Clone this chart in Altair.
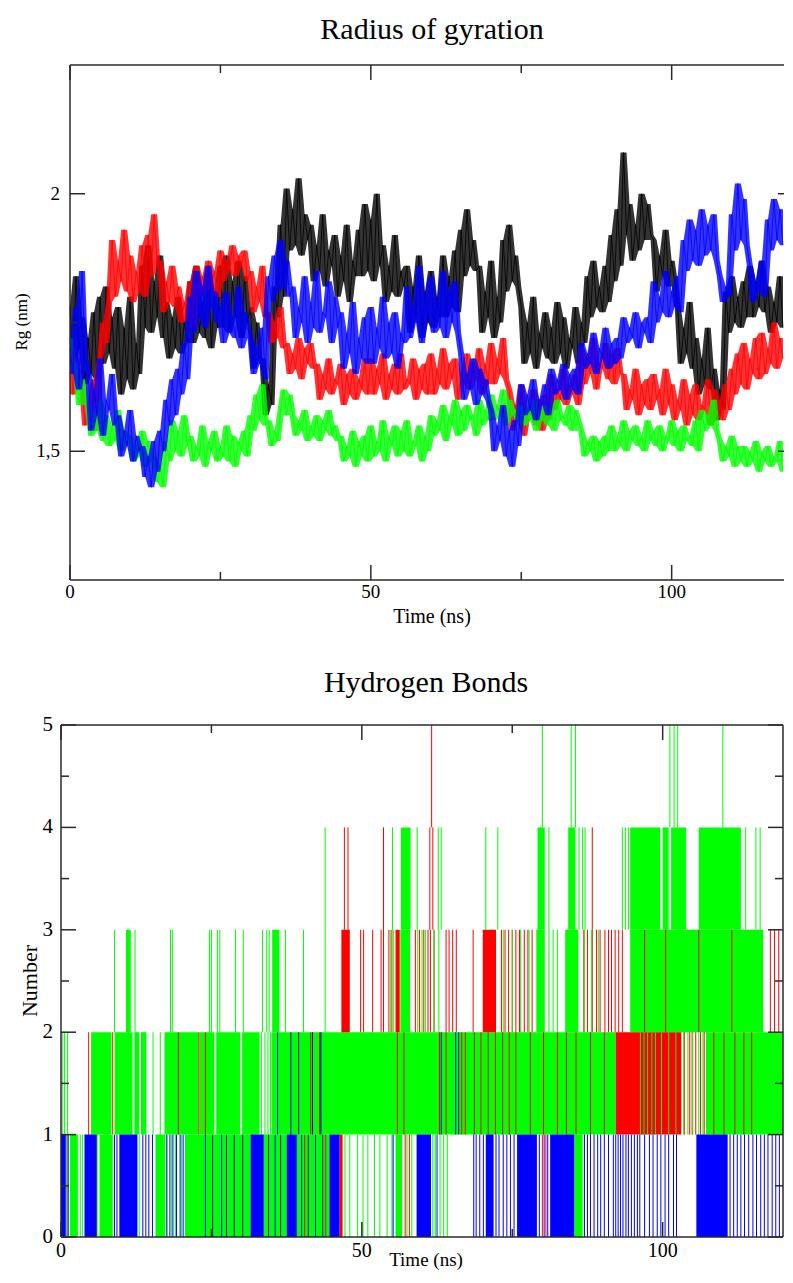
import altair as alt
import pandas as pd

FONT = "Liberation Serif"

# ---------------- Radius of gyration (values in 0.01 nm, one every 0.5 ns) ----------------
RG_STEP_NS = 0.5
RG_BLACK = [
    178, 166, 184, 170,
    176, 163, 172, 165, 177, 164,
    180, 167, 182, 169, 176, 166,
    178, 161, 174, 164, 180, 162, 171, 165,
    186, 174, 190, 173, 183, 176, 188, 172,
    179, 168, 176, 170, 180, 169, 175, 171,
    183, 171, 186, 173, 179, 172, 185, 170, 181, 174,
    186, 174, 188, 173, 183, 176, 187, 172, 184, 175,
    178, 166, 175, 168,
    168, 157, 163, 159,
    182, 176, 194, 180,
    201, 189, 197, 190, 203, 188, 196, 191,
    194, 183, 190, 185, 196, 182, 189, 186,
    192, 180, 188, 183, 194, 179, 187, 184,
    193, 184, 198, 185, 195, 183, 200, 186,
    190, 179, 186, 181, 192, 180, 185, 182,
    186, 173, 182, 176, 188, 172, 181, 175, 185, 174, 180, 176,
    188, 176, 184, 178, 189, 177,
    193, 184, 197, 186, 191, 185,
    186, 173, 181, 176, 187, 172, 180, 175,
    191, 181, 194, 183, 188, 182,
    178, 167, 175, 169, 180, 166, 173, 170, 177, 168, 174, 167, 179, 169, 176, 166, 172, 170, 178, 167, 175, 171,
    184, 176, 187, 178, 182, 177, 186, 179,
    192, 183, 197, 186,
    208, 192,
    198, 187, 194, 189,
    200, 191, 198, 192,
    191, 181, 188, 184, 193, 182, 187, 183,
    178, 167, 174, 169, 179, 166,
    172, 161, 168, 163, 174, 162,
    166, 156, 162, 158,
    181, 173, 184, 175, 180, 174, 183, 176,
    186, 176, 183, 178, 187, 177,
    182, 173, 179, 175, 184, 174, 180, 176, 178,
]
RG_RED = [
    172, 161, 168, 164,
    163, 155, 160, 157, 164, 154,
    168, 175, 171, 179,
    191, 180, 187, 183, 193, 181,
    188, 179, 185, 181, 190, 180,
    192, 184, 196, 186,
    187, 177, 183, 179, 186, 178,
    182, 175, 179, 176, 183, 174,
    186, 180, 184, 181, 187, 182, 185, 180,
    189, 183, 187, 185, 190, 184, 188, 186, 189, 183,
    185, 177, 182, 179, 186, 176,
    177, 171, 175, 172, 178, 170,
    171, 165, 169, 166, 172, 164, 170, 167, 171, 166,
    167, 160, 165, 162, 168, 161, 164, 163, 167, 159, 165, 161, 166, 160, 164, 162, 168, 161,
    168, 161, 166, 163, 169, 160, 165, 162, 167, 161, 169, 162, 164, 163, 168, 160, 166, 162, 167, 161,
    169, 161, 166, 163, 170, 162, 167, 164, 168, 160, 165, 163, 169, 162, 166, 164, 170, 161, 167, 163,
    171, 163, 168, 165, 172, 164,
    162, 154, 159, 156, 163, 153, 158, 157, 162, 155, 160, 154, 161, 156,
    165, 158, 162, 160, 166, 159, 163, 161, 165, 159,
    170, 163, 168, 165, 172, 162, 167, 166, 171, 164, 169, 163, 170, 165,
    165, 158, 162, 160, 166, 157, 163, 159, 164, 158, 165, 160, 162, 157, 166, 159,
    163, 156, 160, 158, 164, 155, 161, 157, 163, 156, 159, 158, 164, 155, 162, 157, 160, 156, 163, 158,
    166, 161, 169, 163, 171, 162, 168, 165, 172, 164,
    173, 165, 170, 167, 175, 166, 172, 168, 176, 167, 171,
]
RG_GREEN = [
    172, 166,
    167, 159, 164, 161,
    159, 153, 157, 154, 160, 152,
    157, 151, 155, 152, 158, 150, 154, 153,
    153, 148, 151, 149, 154, 147, 152, 148,
    149, 144, 147, 143,
    152, 148, 156, 150, 154, 149, 157, 151,
    153, 148, 151, 149, 155, 147, 152, 150, 154, 148, 151, 149, 155, 148, 153, 147, 152, 150, 154, 149,
    157, 154, 161, 156, 163, 155,
    156, 151, 154, 152,
    158, 162, 157, 161,
    157, 153, 156, 154, 158, 152, 155, 153, 157, 152, 156, 154, 158, 153, 155, 152,
    153, 148, 151, 149, 154, 147, 152, 149, 153, 148,
    155, 149, 152, 150, 156, 148, 153, 151, 155, 149, 154, 150, 156, 149, 152, 151, 155, 148, 153, 150,
    157, 153, 156, 154, 159, 152, 157, 155, 160, 153, 158, 154, 159, 156, 157, 153, 160, 155, 158, 156,
    161, 156, 159, 157, 162, 155, 160, 157, 158, 156,
    159, 155, 158, 156, 160, 154, 157, 156, 159, 155, 158, 154, 160, 156, 157, 155, 159, 154, 158, 156,
    154, 149, 152, 150, 153, 148, 152, 149, 153, 150,
    155, 150, 153, 151, 156, 150, 154, 152, 155, 151, 153, 150, 156, 152, 154, 151, 155, 150, 153, 152,
    156, 151, 154, 150, 155, 152, 153, 151, 156, 150,
    158, 154, 157, 155, 160, 154,
    152, 148, 151, 149, 153, 147, 151, 148,
    151, 147, 150, 148, 152, 146, 150, 148, 151, 147, 149, 148, 152, 146, 150, 147, 151,
]
RG_BLUE = [
    170, 165,
    178, 162, 185, 168,
    166, 154, 162, 157, 168, 153, 160, 158, 165, 155,
    157, 149, 154, 151, 158, 148, 153, 150,
    151, 145, 149, 143, 152, 146,
    154, 150, 160, 155, 164, 157,
    166, 161, 171, 164,
    180, 173, 185, 176, 182, 174, 186, 178, 181, 175,
    178, 171, 181, 173, 176, 172, 182, 170, 177, 174,
    172, 165, 170, 167, 174, 164,
    184, 179, 188, 181, 191, 182, 187, 180,
    182, 172, 178, 175, 184, 171, 179, 174, 185, 173, 177, 176, 183, 171, 180, 174,
    177, 166, 173, 169, 179, 165, 172, 168, 176, 167,
    178, 167, 174, 170, 180, 168, 175, 169, 177, 166, 173, 171,
    182, 172, 178, 175, 186, 171, 180, 176, 184, 173, 179, 174, 185, 172, 181, 175, 183, 173,
    169, 160, 165, 162, 168, 159, 166, 161, 164, 160,
    158, 150, 155, 152, 159, 149, 154, 147, 156, 151,
    163, 157, 161, 158, 164, 156, 160, 159, 163, 157,
    166, 161, 164, 162, 167, 160, 165, 162, 166, 161,
    171, 166, 169, 167, 173, 165, 170, 168, 174, 166, 171, 167, 172, 168,
    176, 171, 174, 172, 177, 170, 175, 173, 176, 171,
    183, 175, 180, 177, 185, 176, 181, 178, 184, 177,
    191, 185, 195, 187, 193, 186, 197, 188, 194, 189, 196, 187,
    184, 179, 182, 180,
    196, 189, 202, 191, 199, 190,
    186, 179, 183, 181, 187, 180,
    195, 189, 199, 191, 197, 190, 198, 192, 196,
]
RG_SERIES = [("black", RG_BLACK, "#000000"), ("red", RG_RED, "#ff0000"),
             ("green", RG_GREEN, "#00ff00"), ("blue", RG_BLUE, "#0000ff")]
RG_X_MAJOR = [0, 50, 100]
RG_X_LABELS = ["0", "50", "100"]
RG_X_MINOR = [25, 75]
RG_Y_MAJOR = [1.5, 2.0]
RG_Y_LABELS = ["1,5", "2"]
RG_Y_MINOR = [1.75]
RG_Y_DOMAIN = [1.25, 2.25]

# ---------------- Hydrogen bonds: (start ns, end ns, low, high) filled blocks, (ns, low, high) single strokes ----------------
GREEN_BANDS = [
    (5.0, 8.4, 1, 2), (8.9, 11.9, 1, 2), (12.2, 13.0, 1, 2), (13.3, 14.2, 1, 2),
    (17.2, 22.8, 1, 2), (23.0, 25.5, 1, 2), (25.8, 29.8, 1, 2), (30.1, 33.0, 1, 2),
    (35.0, 92.2, 1, 2), (107.2, 120.0, 1, 2),
    (1.5, 2.8, 0, 1), (6.4, 8.6, 0, 1), (15.7, 17.3, 0, 1), (20.6, 31.5, 0, 1),
    (33.7, 37.5, 0, 1), (39.2, 44.6, 0, 1), (55.6, 56.7, 0, 1), (85.3, 86.7, 0, 1),
    (10.8, 11.6, 2, 3), (35.1, 36.3, 2, 3), (56.4, 58.0, 2, 3), (79.0, 80.4, 2, 3),
    (83.8, 86.0, 2, 3), (94.6, 116.7, 2, 3),
    (56.5, 58.1, 3, 4), (79.2, 80.4, 3, 4), (84.3, 85.5, 3, 4), (94.6, 99.6, 3, 4),
    (100.0, 101.0, 3, 4), (101.4, 103.9, 3, 4), (106.0, 113.0, 3, 4),
]
GREEN_LINES = [
    (0.2, 1, 2), (0.6, 1, 2), (1.1, 1, 2),
    (0.9, 0, 1), (3.2, 0, 1), (3.6, 0, 1), (6.0, 0, 1), (13.0, 0, 1), (17.5, 0, 1),
    (18.4, 0, 1), (19.0, 0, 1), (20.0, 0, 1),
    (15.3, 1, 2), (16.5, 1, 2), (33.3, 1, 2), (33.9, 1, 2), (34.4, 1, 2), (34.8, 1, 2),
    (8.9, 2, 3), (12.3, 2, 3), (18.2, 2, 3), (18.5, 2, 3), (24.7, 2, 3), (25.0, 2, 3),
    (26.0, 2, 3), (26.4, 2, 3), (29.0, 2, 3), (30.3, 2, 3), (33.5, 2, 3), (34.2, 2, 3),
    (34.6, 2, 3), (37.3, 2, 3), (40.3, 2, 3), (43.9, 2, 4),
    (47.2, 0, 1), (48.0, 0, 1), (49.3, 0, 1), (50.2, 0, 1), (51.0, 0, 1), (52.1, 0, 1),
    (53.0, 0, 1), (54.2, 0, 1), (55.0, 0, 1),
    (54.8, 2, 3), (55.3, 2, 3), (55.1, 3, 4),
    (57.5, 0, 1), (58.3, 0, 1), (61.8, 0, 1), (62.2, 0, 1), (63.0, 0, 1), (63.6, 0, 1), (64.2, 0, 1),
    (59.2, 3, 4), (62.7, 3, 4), (63.2, 3, 4), (70.6, 3, 4), (72.6, 3, 4), (81.1, 3, 4),
    (86.1, 3, 4), (86.7, 3, 4), (87.1, 3, 4), (93.3, 3, 4), (93.8, 3, 4), (94.3, 3, 4),
    (113.8, 3, 4), (115.5, 3, 4), (116.2, 3, 4),
    (59.3, 2, 3), (60.0, 2, 3), (60.6, 2, 3), (62.0, 2, 3), (62.8, 2, 3), (73.5, 2, 3),
    (75.0, 2, 3), (76.4, 2, 3), (77.8, 2, 3), (81.1, 2, 3), (81.8, 2, 3), (82.5, 2, 3),
    (87.0, 2, 3), (88.2, 2, 3), (89.3, 2, 3),
    (80.0, 4, 5), (84.8, 4, 5), (85.5, 4, 5), (101.2, 4, 5), (101.9, 4, 5), (102.5, 4, 5),
    (110.0, 4, 5),
    (96.3, 1, 2), (96.9, 1, 2), (97.5, 1, 2), (98.2, 1, 2), (98.8, 1, 2), (99.8, 1, 2),
    (101.0, 1, 2), (102.2, 1, 2), (103.5, 1, 2), (104.2, 1, 2), (105.0, 1, 2), (106.0, 1, 2),
    (106.7, 1, 2),
]
RED_BANDS = [
    (46.3, 46.8, 0, 1), (46.6, 48.0, 2, 3), (55.6, 56.3, 2, 3), (70.1, 72.3, 2, 3),
    (92.2, 103.1, 1, 2),
]
RED_LINES = [
    (1.0, 0, 1), (5.9, 0, 1), (40.5, 0, 1), (44.0, 0, 1),
    (4.6, 1, 2), (8.6, 1, 2), (19.5, 1, 2), (22.9, 1, 2), (24.0, 1, 2), (41.5, 1, 2), (43.0, 1, 2),
    (49.8, 2, 3), (50.3, 2, 3), (51.8, 2, 3), (53.2, 2, 3), (54.5, 2, 3), (55.0, 2, 3),
    (47.1, 3, 4), (47.7, 3, 4), (53.6, 2, 4),
    (58.9, 2, 3), (59.6, 2, 3), (60.3, 2, 3), (61.0, 2, 3), (61.4, 2, 3), (62.0, 2, 3),
    (64.0, 2, 3), (64.5, 2, 3), (65.1, 2, 3), (65.7, 2, 3), (68.5, 2, 3), (73.2, 2, 3),
    (73.8, 2, 3), (74.4, 2, 3), (75.0, 2, 3), (75.6, 2, 3), (76.2, 2, 3), (77.0, 2, 3),
    (77.6, 2, 3), (78.3, 2, 3), (86.9, 2, 3), (87.5, 2, 3), (88.3, 2, 3), (89.0, 2, 3),
    (89.6, 2, 3), (90.4, 2, 3), (91.0, 2, 3), (91.5, 2, 3), (92.1, 2, 3), (92.7, 2, 3),
    (93.3, 2, 3),
    (61.3, 3, 4), (61.8, 3, 4), (88.3, 3, 4), (61.6, 4, 5),
    (55.9, 1, 2), (57.0, 1, 2), (62.9, 1, 2), (64.0, 1, 2), (66.6, 1, 2), (67.2, 1, 2), (68.7, 1, 2),
    (69.8, 1, 2), (71.0, 1, 2), (72.2, 1, 2), (73.4, 1, 2), (74.5, 1, 2), (75.6, 1, 2),
    (78.0, 1, 2), (80.2, 1, 2), (82.5, 1, 2), (84.0, 1, 2), (85.6, 1, 2), (88.0, 1, 2),
    (90.3, 1, 2), (103.6, 1, 2), (104.5, 1, 2), (104.9, 1, 2), (105.5, 1, 2), (106.3, 1, 2),
    (106.9, 1, 2), (108.5, 1, 2), (110.2, 1, 2), (112.0, 1, 2), (113.5, 1, 2), (114.8, 1, 2),
    (97.0, 2, 3), (100.5, 2, 3), (106.0, 2, 3), (111.5, 2, 3), (117.9, 2, 3), (118.6, 2, 3),
    (119.3, 2, 3),
    (57.2, 0, 1), (57.9, 0, 1), (80.0, 0, 1), (80.6, 0, 1),
]
BLUE_BANDS = [
    (0.0, 0.8, 0, 1), (3.9, 5.9, 0, 1), (9.7, 12.7, 0, 1), (31.5, 33.7, 0, 1),
    (37.5, 39.2, 0, 1), (44.6, 46.3, 0, 1), (59.1, 61.5, 0, 1), (70.6, 71.9, 0, 1),
    (75.8, 79.1, 0, 1), (81.3, 85.3, 0, 1), (105.6, 110.8, 0, 1),
]
BLUE_LINE_TIMES = [
    1.2, 8.9, 9.3, 13.6, 14.1, 14.6, 15.2, 17.6, 18.1, 18.6, 19.2, 19.8, 20.3, 24.0, 25.2,
    26.7, 27.5, 28.8, 30.2, 34.5, 35.6, 36.5, 40.0, 41.1, 42.3, 43.5, 55.2, 62.5, 68.6,
    69.0, 69.6, 70.2, 72.3, 72.8, 73.5, 74.1, 74.7, 75.3, 79.5, 80.3, 80.9, 87.0, 87.5,
    88.0, 88.6, 89.2, 89.7, 90.3, 91.0, 91.8, 92.2, 92.6, 93.0, 93.4, 93.9, 94.3, 94.8,
    95.3, 95.8, 96.2, 97.0, 97.8, 98.4, 99.1, 99.7, 100.4, 101.0, 101.8, 102.3, 111.2,
    111.8, 112.4, 113.0, 113.6, 114.3, 115.0, 115.6, 116.3, 116.9, 117.5, 118.2, 118.8, 119.4,
]
BLUE_HIGH_LINE_TIMES = [36.0, 38.2, 39.5, 41.8, 43.2, 63.2, 65.6, 66.1]
HB_X_MAJOR = [0, 50, 100]
HB_X_LABELS = ["0", "50", "100"]
HB_X_MINOR = [25, 75]
HB_Y_MAJOR = [0, 1, 2, 3, 4, 5]
HB_Y_LABELS = ["0", "1", "2", "3", "4", "5"]
HB_Y_MINOR = [0.5, 1.5, 2.5, 3.5, 4.5]
HB_X_DOMAIN = [0, 120]
HB_Y_DOMAIN = [0, 5]

# ---------------- layout (pixels inside the drawing) ----------------
CANVAS_W, CANVAS_H = 776, 1262
AXIS_COLOR = "#2a2a2a"
BOT = dict(left=53, right=775, top=717, bottom=1229)
PX_PER_NS = (BOT["right"] - BOT["left"]) / HB_X_DOMAIN[1]
TOP = dict(left=62, right=776, top=57, bottom=572)     # upper frame, cut at the picture edge
MAJOR_LEN, MINOR_LEN = 15, 8
RG_X_DOMAIN = [0, (TOP["right"] - TOP["left"]) / PX_PER_NS]

rg_xs = alt.Scale(domain=RG_X_DOMAIN, range=[TOP["left"], TOP["right"]], nice=False, zero=False)
rg_ys = alt.Scale(domain=RG_Y_DOMAIN, range=[TOP["bottom"], TOP["top"]], nice=False, zero=False)
hb_xs = alt.Scale(domain=HB_X_DOMAIN, range=[BOT["left"], BOT["right"]], nice=False, zero=False)
hb_ys = alt.Scale(domain=HB_Y_DOMAIN, range=[BOT["bottom"], BOT["top"]], nice=False, zero=False)


def X(field, scale):
    return alt.X(field, scale=scale, axis=None)


def Y(field, scale):
    return alt.Y(field, scale=scale, axis=None)


def frame_and_ticks(P, xs, ys, xmaj, xmin, ymaj, ymin, right_major, right_minor, right_border):
    out = []
    rule = dict(color=AXIS_COLOR, strokeWidth=1.5)
    edge = alt.Chart(pd.DataFrame({"edge": [0]}))
    out.append(edge.mark_rule(**rule).encode(x=alt.value(P["left"]), x2=alt.value(P["right"]), y=alt.value(P["top"])))
    out.append(edge.mark_rule(**rule).encode(x=alt.value(P["left"]), x2=alt.value(P["right"]), y=alt.value(P["bottom"])))
    out.append(edge.mark_rule(**rule).encode(x=alt.value(P["left"]), y=alt.value(P["top"]), y2=alt.value(P["bottom"])))
    if right_border:
        out.append(edge.mark_rule(**rule).encode(x=alt.value(P["right"]), y=alt.value(P["top"]), y2=alt.value(P["bottom"])))
    for vals, L in ((xmaj, MAJOR_LEN), (xmin, MINOR_LEN)):
        base = alt.Chart(pd.DataFrame({"tick": vals})).mark_rule(**rule)
        out.append(base.encode(x=X("tick:Q", xs), y=alt.value(P["bottom"]), y2=alt.value(P["bottom"] - L)))
        out.append(base.encode(x=X("tick:Q", xs), y=alt.value(P["top"]), y2=alt.value(P["top"] + L)))
    for vals, L, R in ((ymaj, MAJOR_LEN, right_major), (ymin, MINOR_LEN, right_minor)):
        base = alt.Chart(pd.DataFrame({"tick": vals})).mark_rule(**rule)
        out.append(base.encode(y=Y("tick:Q", ys), x=alt.value(P["left"]), x2=alt.value(P["left"] + L)))
        if R > 0:
            out.append(base.encode(y=Y("tick:Q", ys), x=alt.value(P["right"]), x2=alt.value(P["right"] - R)))
    return out


def tick_labels_x(vals, labels, xs, ypix, size):
    df = pd.DataFrame({"tick": vals, "label": labels})
    return alt.Chart(df).mark_text(fontSize=size, color="black", align="center", baseline="middle").encode(
        x=X("tick:Q", xs), y=alt.value(ypix), text="label:N")


def tick_labels_y(vals, labels, ys, xpix, size):
    df = pd.DataFrame({"tick": vals, "label": labels})
    return alt.Chart(df).mark_text(fontSize=size, color="black", align="right", baseline="middle").encode(
        y=Y("tick:Q", ys), x=alt.value(xpix), text="label:N")


def caption(text, xpix, ypix, size, angle=0):
    df = pd.DataFrame({"label": [text]})
    return alt.Chart(df).mark_text(fontSize=size, color="black", align="center", baseline="middle",
                                   angle=angle).encode(x=alt.value(xpix), y=alt.value(ypix), text="label:N")


# ---------------- upper panel: radius of gyration ----------------
layers = []
for name, vals, col in RG_SERIES:
    df = pd.DataFrame({"t": [i * RG_STEP_NS for i in range(len(vals))],
                       "rg": [v / 100 for v in vals]})
    base = alt.Chart(df).transform_filter(alt.datum.t <= RG_X_DOMAIN[1])
    # band swept by the fast fluctuations of the trace
    layers.append(
        base.transform_window(lo="min(rg)", hi="max(rg)", frame=[-1, 1], sort=[alt.SortField("t")])
        .mark_area(color=col, opacity=0.8)
        .encode(x=X("t:Q", rg_xs), y=Y("lo:Q", rg_ys), y2="hi:Q"))
    layers.append(base.mark_line(color=col, strokeWidth=0.8).encode(x=X("t:Q", rg_xs), y=Y("rg:Q", rg_ys)))

layers += frame_and_ticks(TOP, rg_xs, rg_ys, RG_X_MAJOR, RG_X_MINOR, RG_Y_MAJOR, RG_Y_MINOR, 6, 0, False)
layers += [
    tick_labels_x(RG_X_MAJOR, RG_X_LABELS, rg_xs, 584, 19),
    tick_labels_y(RG_Y_MAJOR, RG_Y_LABELS, rg_ys, 52, 19),
    caption("Radius of gyration", 424, 22, 30),
    caption("Time (ns)", 424, 609, 20),
    caption("Rg (nm)", 14, 314, 17, angle=270),
]


# ---------------- lower panel: hydrogen bonds ----------------
def bands(rows, color):
    df = pd.DataFrame(rows, columns=["t0", "t1", "lo", "hi"])
    return alt.Chart(df).mark_rect(color=color).encode(
        x=X("t0:Q", hb_xs), x2="t1:Q", y=Y("lo:Q", hb_ys), y2="hi:Q")


def strokes(rows, color):
    df = pd.DataFrame(rows, columns=["t", "lo", "hi"])
    return alt.Chart(df).mark_rule(color=color, strokeWidth=1).encode(
        x=X("t:Q", hb_xs), y=Y("lo:Q", hb_ys), y2="hi:Q")


blue_lines = [(t, 0, 1) for t in BLUE_LINE_TIMES] + [(t, 1, 2) for t in BLUE_HIGH_LINE_TIMES]

layers += [
    bands(GREEN_BANDS, "#00ff00"),
    bands(RED_BANDS, "#ff0000"),
    strokes(RED_LINES, "#ff0000"),
    strokes(GREEN_LINES, "#00ff00"),
    bands(BLUE_BANDS, "#0000ff"),
    strokes(blue_lines, "#0000ff"),
]
layers += frame_and_ticks(BOT, hb_xs, hb_ys, HB_X_MAJOR, HB_X_MINOR, HB_Y_MAJOR, HB_Y_MINOR,
                          MAJOR_LEN, MINOR_LEN, True)
layers += [
    tick_labels_x(HB_X_MAJOR, HB_X_LABELS, hb_xs, 1243, 20),
    tick_labels_y(HB_Y_MAJOR, HB_Y_LABELS, hb_ys, 45, 21),
    caption("Hydrogen Bonds", 418, 675, 30),
    caption("Time (ns)", 418, 1252, 19),
    caption("Number", 22, 973, 22, angle=270),
]

chart = (
    alt.layer(*layers)
    .resolve_scale(x="independent", y="independent")
    .properties(width=CANVAS_W, height=CANVAS_H, padding=0)
    .configure(font=FONT, background="white")
    .configure_view(stroke="transparent")
)

chart.save("out.html", embed_options={"renderer": "svg", "actions": False})
